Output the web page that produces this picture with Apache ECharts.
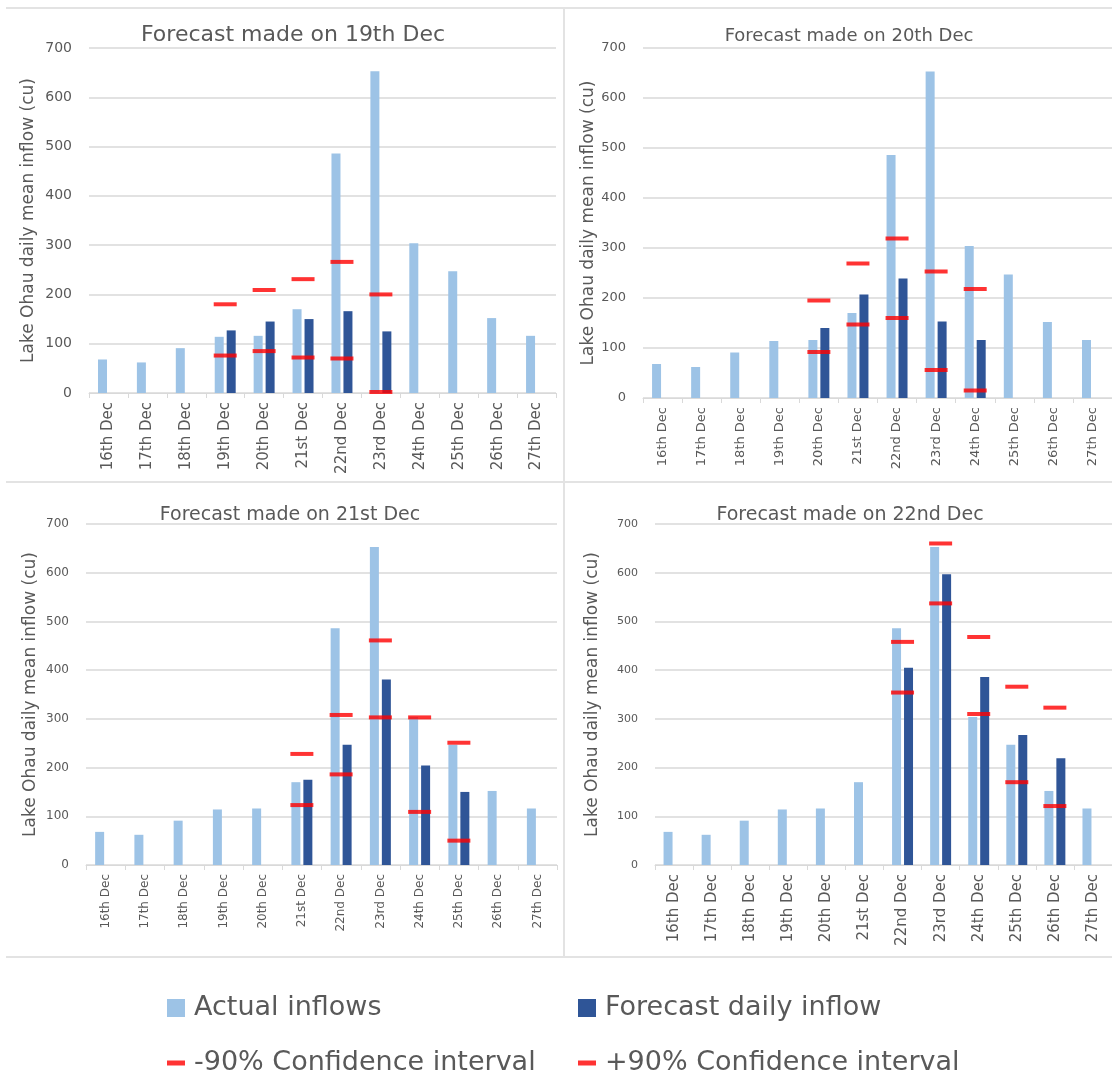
<!DOCTYPE html>
<html>
<head>
<meta charset="utf-8">
<script src="https://cdn.jsdelivr.net/npm/echarts@6/dist/echarts.min.js"></script>
<style>
  html, body { margin: 0; padding: 0; background: #ffffff; }
  #chart { width: 1112px; height: 1074px; }
</style>
</head>
<body>
<div id="chart"></div>
<script>
// ---------- data ----------
const categories = ['16th Dec', '17th Dec', '18th Dec', '19th Dec', '20th Dec', '21st Dec',
                    '22nd Dec', '23rd Dec', '24th Dec', '25th Dec', '26th Dec', '27th Dec'];
const actualInflows = [68, 62, 91, 114, 116, 170, 486, 653, 304, 247, 152, 116];

const panelTitles = ['Forecast made on 19th Dec', 'Forecast made on 20th Dec',
                     'Forecast made on 21st Dec', 'Forecast made on 22nd Dec'];

const forecast19 = [null, null, null, 127, 145, 150, 166, 125, null, null, null, null];
const lower19    = [null, null, null, 76, 85, 72, 70, 2, null, null, null, null];
const upper19    = [null, null, null, 180, 209, 231, 266, 200, null, null, null, null];

const forecast20 = [null, null, null, null, 140, 207, 239, 153, 116, null, null, null];
const lower20    = [null, null, null, null, 92, 147, 160, 56, 15, null, null, null];
const upper20    = [null, null, null, null, 195, 269, 319, 253, 218, null, null, null];

const forecast21 = [null, null, null, null, null, 175, 247, 381, 204, 150, null, null];
const lower21    = [null, null, null, null, null, 123, 186, 303, 109, 50, null, null];
const upper21    = [null, null, null, null, null, 228, 308, 461, 303, 251, null, null];

const forecast22 = [null, null, null, null, null, null, 405, 597, 386, 267, 219, null];
const lower22    = [null, null, null, null, null, null, 354, 537, 310, 170, 121, null];
const upper22    = [null, null, null, null, null, null, 458, 660, 468, 366, 323, null];

const yTicks = { min: 0, max: 700, interval: 100 };
const seriesNames = ['Actual inflows', 'Forecast daily inflow', '-90% Confidence interval', '+90% Confidence interval'];

// ---------- styling / layout ----------
const FONT = 'DejaVu Sans';
const TXT = '#595959';
const LIGHT = '#9DC3E6';
const DARK = '#2F5597';
const RED = '#FF0000';
const GRIDC = '#D9D9D9';

const panels = [
  { grid: { left: 89,  top: 48,  width: 467, height: 345 }, title: { x: 288, y: 33, size: 22 }, yLab: 14, xLab: 15, nameGap: 52, data: [forecast19, lower19, upper19] },
  { grid: { left: 643, top: 48,  width: 469, height: 350 }, title: { x: 844, y: 33, size: 18 }, yLab: 13, xLab: 13, nameGap: 45, data: [forecast20, lower20, upper20] },
  { grid: { left: 86,  top: 524, width: 471, height: 341 }, title: { x: 285, y: 512, size: 19 }, yLab: 12, xLab: 12, nameGap: 47, data: [forecast21, lower21, upper21] },
  { grid: { left: 655, top: 524, width: 457, height: 341 }, title: { x: 845, y: 512, size: 19 }, yLab: 11, xLab: 15, nameGap: 54, data: [forecast22, lower22, upper22] }
];

const grids = [], xAxes = [], yAxes = [], series = [], titles = [];
panels.forEach((p, i) => {
  grids.push(Object.assign({ containLabel: false }, p.grid));
  titles.push({
    text: panelTitles[i], left: p.title.x, top: p.title.y - p.title.size * 0.62,
    textAlign: 'center',
    textStyle: { fontFamily: FONT, fontSize: p.title.size, fontWeight: 'normal', color: TXT }
  });
  xAxes.push({
    type: 'category', gridIndex: i, data: categories,
    axisLine: { lineStyle: { color: GRIDC, width: 1 } },
    axisTick: { show: true, length: 5, lineStyle: { color: GRIDC } },
    axisLabel: { show: true, rotate: 90, interval: 0, margin: 9, fontFamily: FONT, fontSize: p.xLab, color: TXT }
  });
  yAxes.push({
    type: 'value', gridIndex: i, min: yTicks.min, max: yTicks.max, interval: yTicks.interval,
    name: 'Lake Ohau daily mean inflow (cu)', nameLocation: 'middle', nameRotate: 90, nameGap: p.nameGap,
    nameTextStyle: { fontFamily: FONT, fontSize: 17, color: TXT },
    axisLine: { show: false }, axisTick: { show: false },
    axisLabel: { fontFamily: FONT, fontSize: p.yLab, color: TXT, margin: 17 },
    splitLine: { lineStyle: { color: GRIDC, width: 1.5 } }
  });
  series.push({
    name: seriesNames[0], type: 'bar', xAxisIndex: i, yAxisIndex: i, data: actualInflows,
    barWidth: 9, barGap: '33%', itemStyle: { color: LIGHT }, z: 2
  });
  series.push({
    name: seriesNames[1], type: 'bar', xAxisIndex: i, yAxisIndex: i, data: p.data[0],
    barWidth: 9, barGap: '33%', itemStyle: { color: DARK }, z: 2
  });
  series.push({
    name: seriesNames[2], type: 'scatter', xAxisIndex: i, yAxisIndex: i, data: p.data[1],
    symbol: 'rect', symbolSize: [23, 4], itemStyle: { color: RED }, z: 5
  });
  series.push({
    name: seriesNames[3], type: 'scatter', xAxisIndex: i, yAxisIndex: i, data: p.data[2],
    symbol: 'rect', symbolSize: [23, 4], itemStyle: { color: RED }, z: 5
  });
});

const legendText = { fontFamily: FONT, fontSize: 27, color: TXT, lineHeight: 32, padding: [0, 0, 0, 4] };
const legends = [
  { name: seriesNames[0], left: 167, top: 992, w: 18, h: 18 },
  { name: seriesNames[1], left: 578, top: 992, w: 18, h: 18 },
  { name: seriesNames[2], left: 167, top: 1047, w: 18, h: 5 },
  { name: seriesNames[3], left: 578, top: 1047, w: 18, h: 5 }
].map(l => ({
  data: [l.name], left: l.left, top: l.top, padding: 0, icon: 'rect',
  itemWidth: l.w, itemHeight: l.h, textStyle: legendText, selectedMode: false
}));

const lineStyle = { stroke: '#E3E3E3', lineWidth: 2 };
const graphic = [
  { type: 'line', shape: { x1: 6, y1: 8, x2: 1112, y2: 8 }, style: lineStyle, silent: true },
  { type: 'line', shape: { x1: 564, y1: 8, x2: 564, y2: 957 }, style: lineStyle, silent: true },
  { type: 'line', shape: { x1: 6, y1: 482, x2: 1112, y2: 482 }, style: lineStyle, silent: true },
  { type: 'line', shape: { x1: 6, y1: 957, x2: 1112, y2: 957 }, style: lineStyle, silent: true }
];

const chart = echarts.init(document.getElementById('chart'), null, { renderer: 'canvas' });
chart.setOption({
  backgroundColor: '#ffffff',
  animation: false,
  title: titles,
  grid: grids,
  xAxis: xAxes,
  yAxis: yAxes,
  legend: legends,
  graphic: graphic,
  series: series
});
</script>
</body>
</html>
